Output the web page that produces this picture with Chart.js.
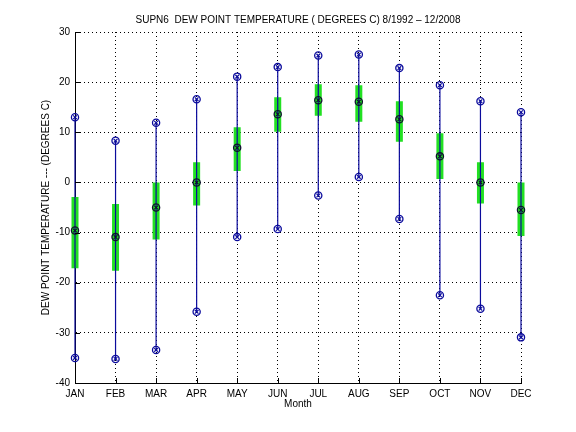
<!DOCTYPE html>
<html>
<head>
<meta charset="utf-8">
<script src="https://cdn.jsdelivr.net/npm/chart.js@4"></script>
<style>
  html, body { margin: 0; padding: 0; background: #fff; }
  #wrap { width: 576px; height: 432px; }
</style>
</head>
<body>
<div id="wrap"><canvas id="c" width="576" height="432"></canvas></div>
<script>
const months = ['JAN','FEB','MAR','APR','MAY','JUN','JUL','AUG','SEP','OCT','NOV','DEC'];
const maxVals = [13.0, 8.3, 11.9, 16.6, 21.1, 23.0, 25.3, 25.5, 22.8, 19.4, 16.2, 14.0];
const q3Vals  = [-2.9, -4.3, 0.0, 4.0, 11.0, 17.0, 19.6, 19.4, 16.2, 9.8, 4.0, 0.0];
const medVals = [-9.6, -10.9, -5.0, 0.0, 6.9, 13.6, 16.4, 16.1, 12.6, 5.2, 0.0, -5.5];
const q1Vals  = [-17.1, -17.6, -11.4, -4.6, 2.3, 10.1, 13.3, 12.1, 8.1, 0.7, -4.2, -10.7];
const minVals = [-35.0, -35.2, -33.4, -25.8, -10.9, -9.3, -2.6, 1.1, -7.3, -22.5, -25.2, -30.9];
const yTicks = [-40, -30, -20, -10, 0, 10, 20, 30];
const titleText = 'SUPN6  DEW POINT TEMPERATURE ( DEGREES C) 8/1992 \u2013 12/2008';
const yLabel = 'DEW POINT TEMPERATURE --- (DEGREES C)';
const xLabel = 'Month';

const BLUE = '#0b0b9c';
const GREEN = '#22e022';
const DARK = '#101030';
const FONT = 'Liberation Sans, Arial, Helvetica, sans-serif';

function segs(lo, hi) {
  const out = [];
  months.forEach((m, i) => {
    out.push({x: i + 1, y: lo[i]});
    out.push({x: i + 1, y: hi[i]});
    out.push({x: i + 1, y: null});
  });
  return out;
}
function pts(vals) { return vals.map((v, i) => ({x: i + 1, y: v})); }
const extremes = pts(maxVals).concat(pts(minVals));

const inwardTicks = {
  id: 'inwardTicks',
  afterDatasetsDraw(chart) {
    const {ctx, chartArea, scales} = chart;
    ctx.save();
    ctx.strokeStyle = '#000';
    ctx.lineWidth = 1;
    ctx.beginPath();
    yTicks.forEach(v => {
      const y = Math.round(scales.y.getPixelForValue(v)) + 0.5;
      ctx.moveTo(chartArea.left, y); ctx.lineTo(chartArea.left + 5, y);
    });
    months.forEach((m, i) => {
      const x = Math.round(scales.x.getPixelForValue(i + 1)) + 0.5;
      ctx.moveTo(x, chartArea.bottom); ctx.lineTo(x, chartArea.bottom - 5);
    });
    ctx.stroke();
    ctx.restore();
  }
};

new Chart(document.getElementById('c'), {
  type: 'line',
  data: {
    datasets: [
      { label: 'q', data: segs(q1Vals, q3Vals), borderColor: GREEN, borderWidth: 7,
        borderCapStyle: 'butt', pointRadius: 0, spanGaps: false, order: 6, clip: false },
      { label: 'r', data: segs(minVals, maxVals), borderColor: BLUE, borderWidth: 1.2,
        pointRadius: 0, spanGaps: false, order: 5, clip: false },
      { label: 'ec', data: extremes, showLine: false, pointStyle: 'circle', pointRadius: 3.6,
        pointBorderColor: BLUE, pointBackgroundColor: 'rgba(0,0,0,0)', pointBorderWidth: 1.3, order: 4, clip: false },
      { label: 'ex', data: extremes, showLine: false, pointStyle: 'crossRot', pointRadius: 2.6,
        pointBorderColor: BLUE, pointBorderWidth: 1.2, order: 3, clip: false },
      { label: 'mc', data: pts(medVals), showLine: false, pointStyle: 'circle', pointRadius: 3.6,
        pointBorderColor: DARK, pointBackgroundColor: 'rgba(0,0,0,0)', pointBorderWidth: 1.3, order: 2, clip: false },
      { label: 'mx', data: pts(medVals), showLine: false, pointStyle: 'crossRot', pointRadius: 2.6,
        pointBorderColor: DARK, pointBorderWidth: 1.2, order: 1, clip: false }
    ]
  },
  options: {
    responsive: false,
    animation: false,
    devicePixelRatio: 1,
    layout: { padding: { left: 20, right: 0, top: 0, bottom: 0 } },
    plugins: {
      legend: { display: false },
      tooltip: { enabled: false },
      title: {
        display: true, text: titleText, color: '#000',
        font: { family: FONT, size: 10, weight: 'normal' },
        padding: { top: 14, bottom: 6 }
      }
    },
    scales: {
      x: {
        type: 'linear', min: 1, max: 12,
        ticks: { stepSize: 1, color: '#000', padding: 5, autoSkip: false, maxRotation: 0,
          font: { family: FONT, size: 10 },
          callback: v => months[v - 1] },
        grid: { color: '#000', lineWidth: 1, drawTicks: false },
        border: { display: true, color: '#000', width: 1, dash: [1, 3] },
        title: { display: true, text: xLabel, color: '#000', font: { family: FONT, size: 10 },
          padding: { top: 0, bottom: 22 } },
        afterFit(s) { s.height = 49; }
      },
      y: {
        type: 'linear', min: -40, max: 30,
        afterBuildTicks(s) { s.ticks = yTicks.map(v => ({value: v})); },
        ticks: { color: '#000', padding: 5, font: { family: FONT, size: 10 } },
        grid: { color: '#000', lineWidth: 1, drawTicks: false },
        border: { display: true, color: '#000', width: 1, dash: [1, 3] },
        title: { display: true, text: yLabel, color: '#000', font: { family: FONT, size: 10 },
          padding: { top: 20, bottom: 0 } },
        afterFit(s) { s.width = 55; }
      },
      yR: {
        position: 'right', display: true,
        grid: { display: false }, border: { display: false },
        ticks: { display: false },
        afterFit(s) { s.width = 55; }
      }
    }
  },
  plugins: [inwardTicks]
});
</script>
</body>
</html>
